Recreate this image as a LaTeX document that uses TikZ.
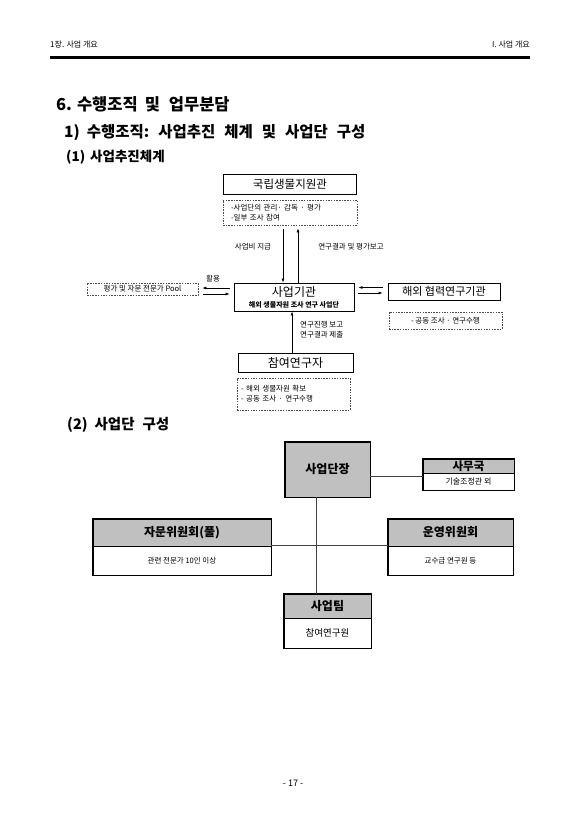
\documentclass[tikz,border=0pt]{standalone}
\usepackage{fontspec}
\setmainfont{Noto Sans CJK KR}
\usetikzlibrary{arrows.meta}
\definecolor{hdrgray}{HTML}{C0C0C0}
\newcommand{\gsp}[1]{\hspace{#1}}
\tikzset{
  solidbox/.style={draw=black, line width=0.9pt, minimum width=#1, inner sep=0pt},
  dashbox/.style={draw=black!70, dashed, dash pattern=on 1.5pt off 1.2pt, line width=0.6pt, inner sep=0pt},
  arr/.style={-{Latex[length=4pt,width=3pt]}, line width=0.6pt},
  small/.style={font=\fontsize{7.5}{10}\selectfont, inner sep=0pt},
  conn/.style={draw=black!75, line width=0.6pt},
  ghead/.style={draw=black, fill=hdrgray, line width=0.6pt, inner sep=0pt, font=\fontsize{12}{14}\selectfont\bfseries},
  gbody/.style={draw=black, fill=white, line width=0.6pt, inner sep=0pt},
  frame/.style={draw=black, line width=1.4pt},
}
\begin{document}
\begin{tikzpicture}[x=1pt,y=-1pt]
\useasboundingbox[fill=white] (0,0) rectangle (586,830);
% page header
\node[anchor=west, inner sep=0pt, font=\fontsize{8}{10}\selectfont] (hl) at (50,45) {1장. 사업 개요};
\node[anchor=east, inner sep=0pt, font=\fontsize{8}{10}\selectfont] (hr) at (530,45) {I. 사업 개요};
\coordinate (rl) at (50,57);
\coordinate (rr) at (530,57);
\draw[line width=3pt] (rl) -- (rr);
% headings
\node[anchor=west, inner sep=0pt, font=\fontsize{16.5}{20}\selectfont\bfseries] (t1) at (56,104) {6.\gsp{5pt}수행조직\gsp{7pt}및\gsp{9pt}업무분담};
\node[anchor=west, inner sep=0pt, font=\fontsize{15.5}{18}\selectfont\bfseries] (t2) at (64,133) {1)\gsp{7pt}수행조직:\gsp{9pt}사업추진\gsp{9pt}체계\gsp{9pt}및\gsp{9pt}사업단\gsp{9pt}구성};
\node[anchor=west, inner sep=0pt, font=\fontsize{13.5}{16}\selectfont\bfseries] (t3) at (66,157) {(1)\gsp{5pt}사업추진체계};

% ---------- diagram 1 ----------
\node[solidbox=133pt, minimum height=20pt, font=\fontsize{11.5}{13}\selectfont] (nibr) at (290,184.5) {국립생물지원관};
\node[dashbox, minimum width=134pt, minimum height=25pt, text width=118pt, align=left, font=\fontsize{7.5}{10}\selectfont] (nibrnote) at (290,212.5) {-사업단의 관리· 감독 · 평가\\-일부 조사 참여};

\node[solidbox=120pt, minimum height=28pt, align=center] (agency) at (294,297)
  {{\fontsize{12}{13}\selectfont 사업기관}\\[-1pt]{\fontsize{7}{8}\selectfont\bfseries 해외 생물자원 조사 연구 사업단}};

\draw[arr] ([xshift=-7pt,yshift=-4pt]nibrnote.south) -- ([xshift=-11pt]agency.north);
\draw[arr] ([xshift=4pt]agency.north) -- ([xshift=8pt,yshift=-3pt]nibrnote.south);
\node[small] (l1) at (253,247) {사업비 지급};
\node[small] (l2) at (351,247) {연구결과 및 평가보고};

\node[dashbox, minimum width=111pt, minimum height=12pt, font=\fontsize{7.5}{9}\selectfont] (pool) at (142.5,289) {평가 및 자문 전문가 Pool};
\draw[arr] ([xshift=-4pt,yshift=9pt]agency.west) -- ([xshift=4pt,yshift=9pt]agency.west -| pool.east);
\draw[arr] ([xshift=5pt,yshift=3pt]agency.west -| pool.east) -- ([xshift=-4pt,yshift=3pt]agency.west);
\node[small] (l3) at (213,279) {활용};

\node[solidbox=112pt, minimum height=17pt, font=\fontsize{11}{13}\selectfont] (oversea) at (444,291.5) {해외 협력연구기관};
\node[dashbox, minimum width=113pt, minimum height=17pt, font=\fontsize{7.5}{9}\selectfont] (overnote) at (445.5,320.5) {- 공동 조사 · 연구수행};
\draw[arr] ([xshift=-5pt,yshift=4pt]oversea.west) -- ([xshift=4pt,yshift=4pt]oversea.west -| agency.east);
\draw[arr] ([xshift=4pt,yshift=-1.5pt]oversea.west -| agency.east) -- ([xshift=-5pt,yshift=-1.5pt]oversea.west);

\node[solidbox=115pt, minimum height=19pt, font=\fontsize{12}{14}\selectfont] (part) at (295.5,362.5) {참여연구자};
\node[dashbox, minimum width=113pt, minimum height=32pt, text width=105pt, align=left, font=\fontsize{7.5}{10}\selectfont] (partnote) at (293.5,394) {- 해외 생물자원 확보\\- 공동 조사 · 연구수행};
\draw[arr] ([xshift=-3.5pt]part.north) -- ([xshift=-2pt]agency.south);
\node[small, anchor=west, align=left] (l4) at (300,330) {연구진행 보고\\연구결과 제출};

% ---------- section (2) ----------
\node[anchor=west, inner sep=0pt, font=\fontsize{14.5}{16}\selectfont\bfseries] (t4) at (67,425) {(2)\gsp{7pt}사업단\gsp{8pt}구성};

% ---------- diagram 2 ----------
\node[ghead, minimum width=85pt, minimum height=55pt] (head) at (327.5,469.5) {사업단장};
\draw[frame] (head.north west) rectangle (head.south east);

\node[ghead, minimum width=91pt, minimum height=14pt, font=\fontsize{11.5}{13}\selectfont\bfseries] (officeH) at (468.5,466) {사무국};
\node[gbody, minimum width=91pt, minimum height=17pt, font=\fontsize{8}{10}\selectfont] (officeB) at (468.5,481.5) {기술조정관 외};
\draw[frame] (officeH.north west) rectangle (officeB.south east);

\node[ghead, minimum width=178pt, minimum height=27pt] (advH) at (182,532.5) {자문위원회(풀)};
\node[gbody, minimum width=178pt, minimum height=29pt, font=\fontsize{7.5}{10}\selectfont] (advB) at (182,560.5) {관련 전문가 10인 이상};
\draw[frame] (advH.north west) rectangle (advB.south east);

\node[ghead, minimum width=125pt, minimum height=27pt] (stH) at (450.5,532.5) {운영위원회};
\node[gbody, minimum width=125pt, minimum height=29pt, font=\fontsize{7.5}{10}\selectfont] (stB) at (450.5,560.5) {교수급 연구원 등};
\draw[frame] (stH.north west) rectangle (stB.south east);

\node[ghead, minimum width=87pt, minimum height=24pt] (teamH) at (327.5,606) {사업팀};
\node[gbody, minimum width=87pt, minimum height=30pt, font=\fontsize{9.5}{11}\selectfont] (teamB) at (327.5,633) {참여연구원};
\draw[frame] (teamH.north west) rectangle (teamB.south east);

\draw[conn] ([yshift=-6.5pt]head.east) -- ([yshift=-6.5pt]head.east -| officeH.west);
\draw[conn] ([xshift=-11.5pt]head.south) -- ([xshift=-11.5pt]head.south |- teamH.north);
\draw[conn] (advB.north east) -- (stB.north west);

% page number
\node[inner sep=0pt, font=\fontsize{9}{11}\selectfont] (pg) at (293,783) {- 17 -};
\end{tikzpicture}
\end{document}
